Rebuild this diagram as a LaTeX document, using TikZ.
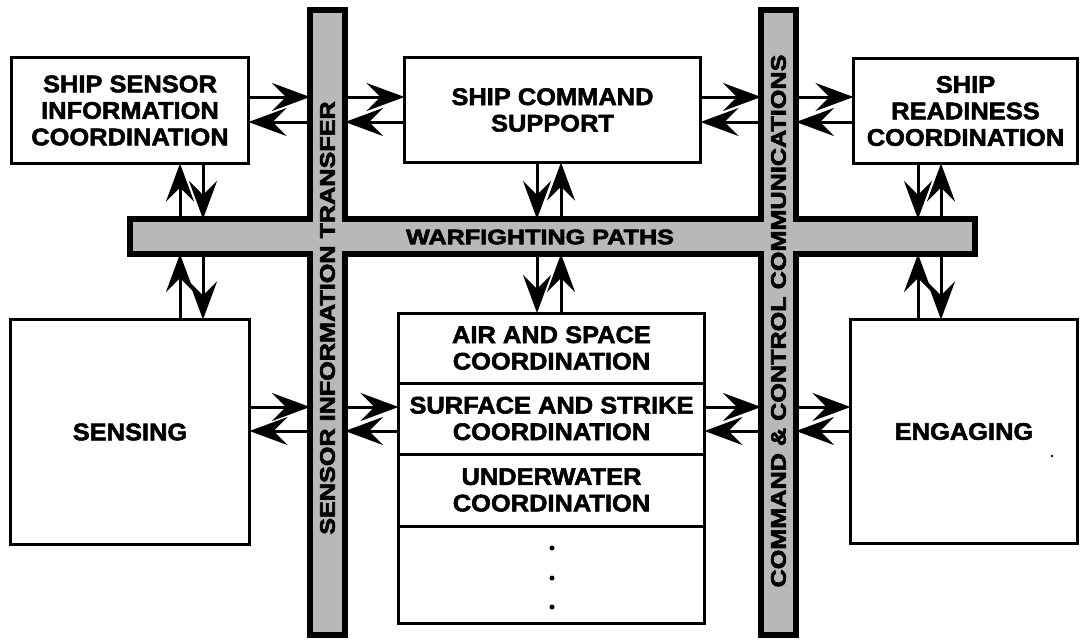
\documentclass[tikz,border=0pt]{standalone}
\usepackage{fontspec}
\setmainfont{Liberation Sans}
\newfontfamily\boxfont[FakeStretch=1.06,FakeBold=2.2]{Liberation Sans}
\newfontfamily\barfont[FakeStretch=1.2,FakeBold=3]{Liberation Sans}
\usetikzlibrary{arrows.meta}
\definecolor{bargray}{gray}{0.72}
\begin{document}
\begin{tikzpicture}[x=1pt,y=-1pt,
  box/.style={draw, line width=3pt, fill=white, inner sep=0pt, outer sep=0pt, align=center,
    font=\boxfont\bfseries\fontsize{24}{26.5}\selectfont},
  bar/.style={draw, line width=6pt, fill=bargray, inner sep=0pt, outer sep=0pt},
  barin/.style={fill=bargray},
  bartext/.style={font=\barfont\bfseries\fontsize{21}{24}\selectfont, inner sep=0pt},
  arr/.style={line width=3pt, -{Stealth[length=38pt,width=28pt,inset=14pt]}},
  dot/.style={fill=black}
]
\useasboundingbox (0,0) rectangle (1082,640);

% bars
\node[bar, minimum width=35pt, minimum height=625pt] (bar1) at (327.5,322.5) {};
\node[bar, minimum width=35pt, minimum height=625pt] (bar2) at (778.5,322.5) {};
\node[bar, minimum width=845pt, minimum height=35pt] (hbar) at (552.5,236.5) {};
\fill[barin] ([shift={(3pt,-3pt)}]bar1.north west) rectangle ([shift={(-3pt,3pt)}]bar1.south east);
\fill[barin] ([shift={(3pt,-3pt)}]bar2.north west) rectangle ([shift={(-3pt,3pt)}]bar2.south east);
\fill[barin] ([shift={(3pt,-3pt)}]hbar.north west) rectangle ([shift={(-3pt,3pt)}]hbar.south east);

\node[bartext, rotate=90] (t1) at (327.5,318) {SENSOR INFORMATION TRANSFER};
\node[bartext, rotate=90] (t2) at (778.5,321) {COMMAND \& CONTROL COMMUNICATIONS};
\node[bartext] (t3) at (540,237) {WARFIGHTING PATHS};

% boxes
\node[box, minimum width=237pt, minimum height=106pt] (ssic) at (130,110.5) {SHIP SENSOR\\INFORMATION\\COORDINATION};
\node[box, minimum width=296pt, minimum height=105pt] (scs) at (552.5,110) {SHIP COMMAND\\SUPPORT};
\node[box, minimum width=224pt, minimum height=105pt] (src) at (965.5,111) {SHIP\\READINESS\\COORDINATION};
\node[box, minimum width=239pt, minimum height=225pt] (sensing) at (130,432) {SENSING};
\node[box, minimum width=227pt, minimum height=224pt] (engaging) at (964,431.5) {ENGAGING};
\node[box, minimum width=306pt, minimum height=70pt] (air) at (551.5,348) {AIR AND SPACE\\COORDINATION};
\node[box, minimum width=306pt, minimum height=71pt] (surf) at (551.5,418.5) {SURFACE AND STRIKE\\COORDINATION};
\node[box, minimum width=306pt, minimum height=72pt] (under) at (551.5,490) {UNDERWATER\\COORDINATION};
\node[box, minimum width=306pt, minimum height=97pt] (more) at (551.5,574.5) {};
\fill[dot] (552,548) circle[radius=2.5pt];
\fill[dot] (552,578) circle[radius=2.5pt];
\fill[dot] (552,607) circle[radius=2.5pt];
\fill[dot] (1052,456) circle[radius=1.4pt];

% row / column coordinates
\coordinate (yr1) at (0,97);
\coordinate (yl1) at (0,122);
\coordinate (yr2) at (0,407);
\coordinate (yl2) at (0,431);
\coordinate (xa) at (180,0);
\coordinate (xb) at (203,0);
\coordinate (xc) at (537,0);
\coordinate (xd) at (561,0);
\coordinate (xe) at (918,0);
\coordinate (xf) at (941,0);

% top row arrows
\draw[arr] (ssic.east |- yr1) -- (bar1.west |- yr1);
\draw[arr] (bar1.west |- yl1) -- (ssic.east |- yl1);
\draw[arr] (bar1.east |- yr1) -- (scs.west |- yr1);
\draw[arr] (scs.west |- yl1) -- (bar1.east |- yl1);
\draw[arr] (scs.east |- yr1) -- (bar2.west |- yr1);
\draw[arr] (bar2.west |- yl1) -- (scs.east |- yl1);
\draw[arr] (bar2.east |- yr1) -- (src.west |- yr1);
\draw[arr] (src.west |- yl1) -- (bar2.east |- yl1);

% middle row arrows
\draw[arr] (sensing.east |- yr2) -- (bar1.west |- yr2);
\draw[arr] (bar1.west |- yl2) -- (sensing.east |- yl2);
\draw[arr] (bar1.east |- yr2) -- (surf.west |- yr2);
\draw[arr] (surf.west |- yl2) -- (bar1.east |- yl2);
\draw[arr] (surf.east |- yr2) -- (bar2.west |- yr2);
\draw[arr] (bar2.west |- yl2) -- (surf.east |- yl2);
\draw[arr] (bar2.east |- yr2) -- (engaging.west |- yr2);
\draw[arr] (engaging.west |- yl2) -- (bar2.east |- yl2);

% vertical arrows
\draw[arr] (hbar.north -| xa) -- (ssic.south -| xa);
\draw[arr] (ssic.south -| xb) -- (hbar.north -| xb);
\draw[arr] (sensing.north -| xa) -- (hbar.south -| xa);
\draw[arr] (hbar.south -| xb) -- (sensing.north -| xb);

\draw[arr] (scs.south -| xc) -- (hbar.north -| xc);
\draw[arr] (hbar.north -| xd) -- (scs.south -| xd);
\draw[arr] (hbar.south -| xc) -- (air.north -| xc);
\draw[arr] (air.north -| xd) -- (hbar.south -| xd);

\draw[arr] (src.south -| xe) -- (hbar.north -| xe);
\draw[arr] (hbar.north -| xf) -- (src.south -| xf);
\draw[arr] (engaging.north -| xe) -- (hbar.south -| xe);
\draw[arr] (hbar.south -| xf) -- (engaging.north -| xf);
\end{tikzpicture}
\end{document}
